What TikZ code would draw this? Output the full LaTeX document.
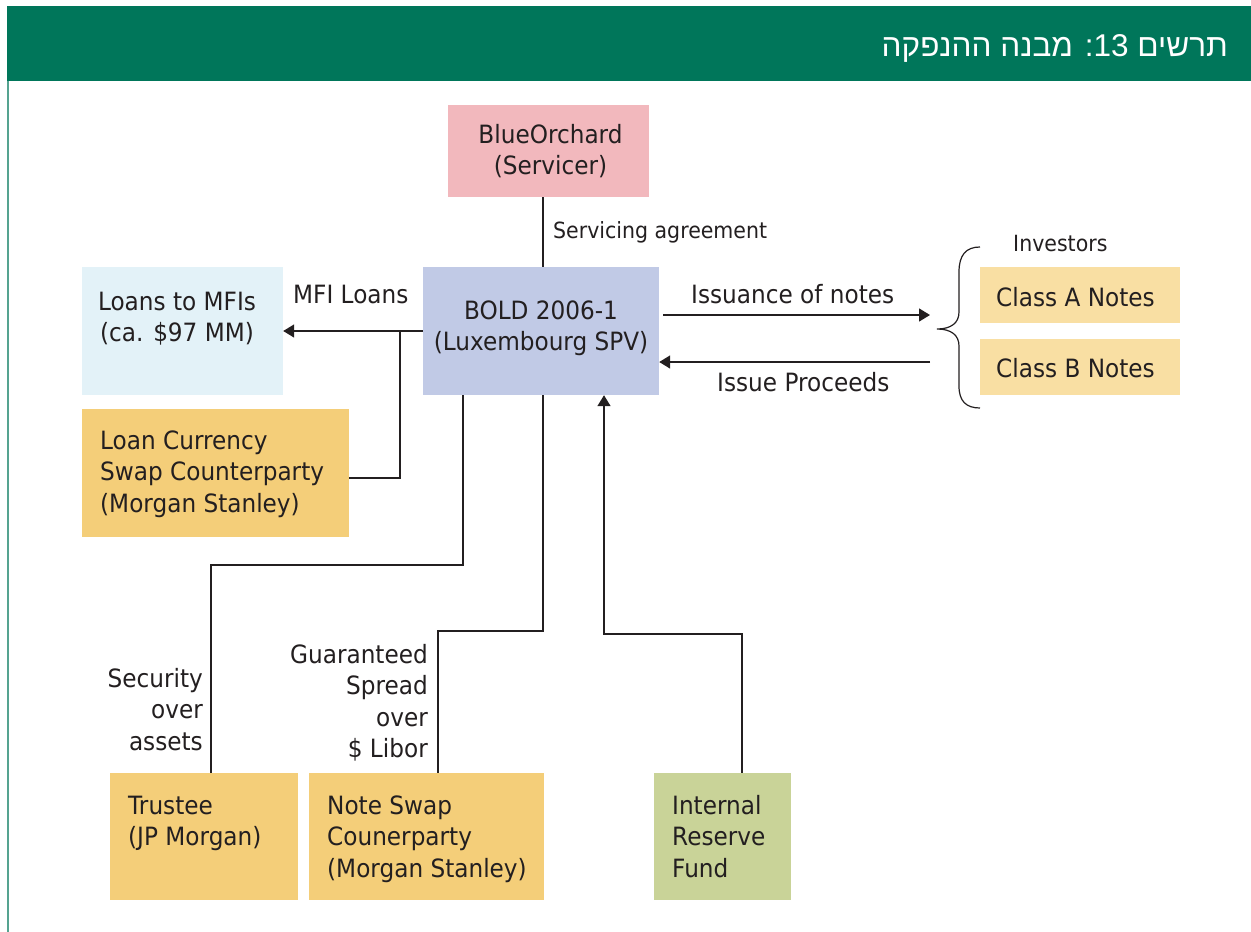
\documentclass[tikz,border=0pt]{standalone}
\usepackage{fontspec}
\setmainfont{DejaVu Sans}[FakeStretch=0.92]
\newfontfamily\hebfont[Script=Hebrew]{Liberation Sans}
\TeXXeTstate=1
\usetikzlibrary{arrows.meta,calc}
\definecolor{hdrgreen}{HTML}{00765A}
\definecolor{bordergreen}{HTML}{55A390}
\definecolor{inkc}{HTML}{231F20}
\definecolor{pinkc}{HTML}{F2B8BD}
\definecolor{lavc}{HTML}{C1CAE6}
\definecolor{ltbluec}{HTML}{E3F2F8}
\definecolor{orangec}{HTML}{F4CE79}
\definecolor{ltorangec}{HTML}{F9DFA3}
\definecolor{olivec}{HTML}{C9D398}
\newcommand{\fs}{\rule{0pt}{20pt}}
\tikzset{
  box/.style={rectangle, draw=none, inner sep=0pt},
  txt/.style={inner sep=0pt, text=inkc, font=\fontsize{25.2}{31.5}\selectfont},
  smalltxt/.style={inner sep=0pt, text=inkc, font=\fontsize{22.3}{28}\selectfont},
  line/.style={draw=inkc, line width=1.5pt},
  arr/.style={line, -{Triangle[length=11pt,width=13pt]}},
}
\begin{document}
\begin{tikzpicture}[x={(1pt,0)}, y={(0,-1pt)}]
\useasboundingbox (0,0) rectangle (1251,932);
% header
\fill[hdrgreen] (7,6) rectangle (1251,81);
\fill[bordergreen] (7,81) rectangle (9,932);
\node[inner sep=0pt, anchor=base east, text=white, font=\hebfont\fontsize{31.5}{38}\selectfont] (title) at (1228,56)
  {\beginR תרשים \beginL 13\endL: מבנה ההנפקה\endR};

% boxes
\node[box, fill=pinkc, minimum width=201pt, minimum height=92pt] (blue) at (548.5,151) {};
\node[box, fill=lavc, minimum width=236pt, minimum height=128pt] (bold) at (541,331) {};
\node[box, fill=ltbluec, minimum width=201pt, minimum height=128pt] (loans) at (182.5,331) {};
\node[box, fill=orangec, minimum width=267pt, minimum height=128pt] (swap) at (215.5,473) {};
\node[box, fill=ltorangec, minimum width=200pt, minimum height=56pt] (classa) at (1080,295) {};
\node[box, fill=ltorangec, minimum width=200pt, minimum height=56pt] (classb) at (1080,367) {};
\node[box, fill=orangec, minimum width=188pt, minimum height=127pt] (trustee) at (204,836.5) {};
\node[box, fill=orangec, minimum width=235pt, minimum height=127pt] (noteswap) at (426.5,836.5) {};
\node[box, fill=olivec, minimum width=137pt, minimum height=127pt] (reserve) at (722.5,836.5) {};

% box texts
\node[txt, anchor=north, align=center] (bluetxt) at (550.5,123) {\fs BlueOrchard\\(Servicer)};
\node[txt, anchor=north, align=center] (boldtxt) at (541,299) {\fs BOLD 2006-1\\(Luxembourg SPV)};
\node[txt, anchor=north, align=center] (loanstxt) at (177,290) {\fs Loans to MFIs\\(ca. \$97 MM)};
\node[txt, anchor=north west, align=left] (swaptxt) at (100,429) {\fs Loan Currency\\Swap Counterparty\\(Morgan Stanley)};
\node[txt, anchor=north west, align=left] (classatxt) at (996,286) {\fs Class A Notes};
\node[txt, anchor=north west, align=left] (classbtxt) at (996,357) {\fs Class B Notes};
\node[txt, anchor=north west, align=left] (trusteetxt) at (128,794) {\fs Trustee\\(JP Morgan)};
\node[txt, anchor=north west, align=left] (noteswaptxt) at (327,794) {\fs Note Swap\\Counerparty\\(Morgan Stanley)};
\node[txt, anchor=north west, align=left] (reservetxt) at (672,794) {\fs Internal\\Reserve\\Fund};

% connector labels
\node[smalltxt, anchor=base west] (servlbl) at (553,238) {Servicing agreement};
\node[smalltxt, anchor=base west] (invlbl) at (1013,251) {Investors};
\node[txt, anchor=base west] (mfilbl) at (293,303) {MFI Loans};
\node[txt, anchor=base west] (isslbl) at (691,303) {Issuance of notes};
\node[txt, anchor=base west] (proclbl) at (717,391) {Issue Proceeds};
\node[txt, anchor=north east, align=right] (seclbl) at (203,667) {\fs Security\\over\\assets};
\node[txt, anchor=north east, align=right] (guarlbl) at (428,643) {\fs Guaranteed\\Spread\\over\\\$ Libor};

% junction coordinates
\coordinate (mfij) at (400,331);
\coordinate (notesin) at (930,315);
\coordinate (notesout) at (930,362);

% connectors
\draw[line] ($(blue.south)+(-5.5,0)$) -- ($(bold.north)+(2,0)$);
\draw[arr] (bold.west) -- (loans.east);
\draw[line] ($(swap.east)+(0,5)$) -| (mfij);
\draw[line] ($(bold.south)+(-78,0)$) -- ++(0,170) -| ($(trustee.north)+(7,0)$);
\draw[line] ($(bold.south)+(2,0)$) -- ++(0,236) -| ($(noteswap.north)+(11.5,0)$);
\draw[arr] ($(reserve.north)+(19.5,0)$) -- ++(0,-139) -| ($(bold.south)+(63,0)$);
\draw[arr] ($(bold.east)+(4,-16)$) -- (notesin);
\draw[arr] (notesout) -- ($(bold.east)+(0,31)$);

% brace
\draw[draw=inkc, line width=1.2pt] (980,247) .. controls (966,247) and (959,255) .. (959,272) -- (959,312)
  .. controls (959,323) and (951,329) .. (937,329)
  .. controls (951,329) and (959,335) .. (959,346) -- (959,386)
  .. controls (959,401) and (966,408) .. (980,408);
\end{tikzpicture}
\end{document}
